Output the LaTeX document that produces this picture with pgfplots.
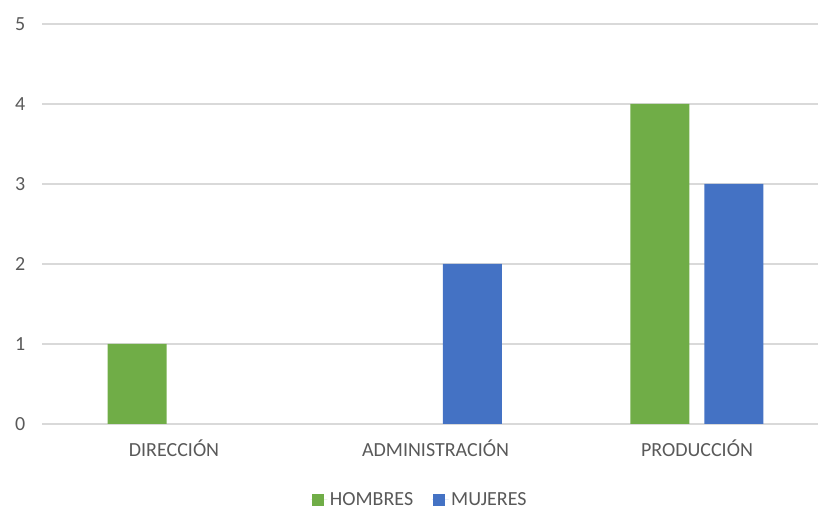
\documentclass[border=0pt]{standalone}
\usepackage{pgfplots}
\pgfplotsset{compat=1.18}
\usepackage{fontspec}
\setmainfont{Carlito}
\definecolor{hombres}{HTML}{70AD47}
\definecolor{mujeres}{HTML}{4472C4}
\definecolor{gridgray}{HTML}{D9D9D9}
\definecolor{txtgray}{HTML}{595959}
\begin{document}
\begin{tikzpicture}
\begin{axis}[
  at={(31.5pt,64.5pt)}, anchor=south west,
  scale only axis,
  width=582pt, height=300pt,
  xmin=-0.505, xmax=2.463,
  ymin=0, ymax=5,
  ytick={0,1,2,3,4,5},
  xtick={0,1,2},
  xticklabels={DIRECCIÓN, ADMINISTRACIÓN, PRODUCCIÓN},
  axis line style={draw=none},
  major tick length=0pt,
  ymajorgrids,
  grid style={gridgray, line width=0.9pt},
  ticklabel style={font=\fontsize{15}{18}\selectfont, text=txtgray},
  yticklabel style={xshift=-9pt},
  xticklabel style={yshift=-8pt},
  /pgf/number format/assume math mode=true,
  ybar, bar width=44.25pt,
  legend style={at={(0.487,-0.19)}, anchor=center, draw=none,
    font=\fontsize{15}{18}\selectfont, text=txtgray,
    legend columns=2, /tikz/every even column/.append style={column sep=12pt}},
  legend image code/.code={\fill[#1] (0pt,-4.5pt) rectangle (9pt,4.5pt);
    \path (-1pt,0pt) -- (11.5pt,0pt);},
]
% zero values (HOMBRES in ADMINISTRACION, MUJERES in DIRECCION) draw no bar
\addplot[fill=hombres, draw=none, bar shift=-27.75pt] coordinates {(0,1) (2,4)};
\addplot[fill=mujeres, draw=none, bar shift=27.75pt] coordinates {(1,2) (2,3)};
\legend{HOMBRES, MUJERES}
\end{axis}
\pgfresetboundingbox
\path (0,0) rectangle (613.5pt,382.5pt);
\end{tikzpicture}
\end{document}
